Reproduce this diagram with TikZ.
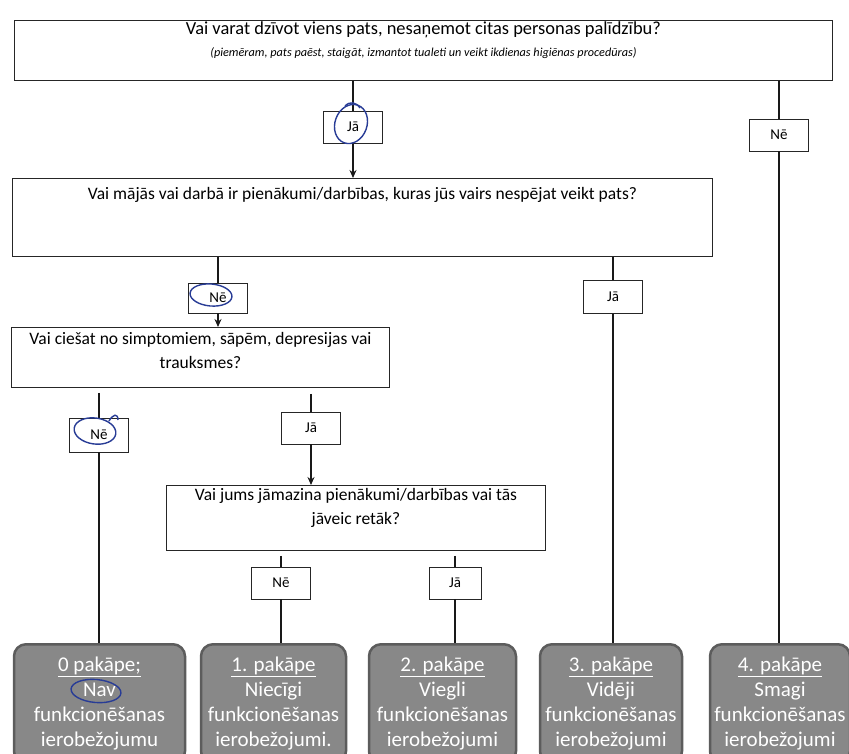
\documentclass[tikz,border=0pt]{standalone}
\usepackage{fontspec}
\setmainfont{Carlito}
\usetikzlibrary{arrows.meta}
\definecolor{gfill}{RGB}{136,136,136}
\definecolor{gdraw}{RGB}{92,92,92}
\definecolor{penblue}{RGB}{40,60,150}
\begin{document}
\begin{tikzpicture}[x=1pt,y=-1pt,
  qbox/.style={draw=black!85, line width=0.9pt, rectangle, inner sep=0pt, anchor=north west},
  qtext/.style={font=\fontsize{17.5}{24}\selectfont, align=center, inner sep=0pt},
  ans/.style={draw=black!85, line width=0.9pt, minimum width=59pt, minimum height=32pt, inner sep=0pt, font=\fontsize{15}{18}\selectfont},
  conn/.style={line width=1.3pt, black!90},
  arr/.style={conn, -{Stealth[length=8pt,width=7pt]}},
  grade/.style={rounded corners=12pt, fill=gfill, draw=gdraw, line width=2.5pt, minimum height=119pt, inner sep=0pt, anchor=north, text=white, align=center, font=\fontsize{21}{25}\selectfont},
  pen/.style={draw=penblue, line width=1.4pt}
]
\useasboundingbox (0,0) rectangle (849,753);
\clip (0,0) rectangle (849,753);
\fill[white] (0,0) rectangle (849,753);

% question boxes
\node[qbox, minimum width=818pt, minimum height=60pt] (q1) at (14,20) {};
\node[qtext, font=\fontsize{18.4}{24}\selectfont] (q1t) at ([yshift=-10pt]q1.north) {Vai varat dzīvot viens pats, nesaņemot citas personas palīdzību?};
\node[inner sep=0pt, font=\fontsize{12.2}{14}\selectfont\itshape] (q1s) at ([yshift=-33pt]q1.north) {(piemēram, pats paēst, staigāt, izmantot tualeti un veikt ikdienas higiēnas procedūras)};

\node[qbox, minimum width=700pt, minimum height=78pt] (q2) at (12,178) {};
\node[qtext] (q2t) at ([yshift=-17pt]q2.north) {Vai mājās vai darbā ir pienākumi/darbības, kuras jūs vairs nespējat veikt pats?};

\node[qbox, minimum width=378pt, minimum height=60pt] (q3) at (11,327) {};
\node[qtext] (q3t) at ([yshift=-23pt]q3.north) {Vai ciešat no simptomiem, sāpēm, depresijas vai\\trauksmes?};

\node[qbox, minimum width=379pt, minimum height=65pt] (q4) at (166,485) {};
\node[qtext] (q4t) at ([yshift=-22.5pt]q4.north) {Vai jums jāmazina pienākumi/darbības vai tās\\jāveic retāk?};

% answer boxes
\node[ans] (j1) at (353,127) {Jā};
\node[ans] (n1) at (779,135) {Nē};
\node[ans, minimum height=30pt] (n2) at (218,298) {Nē};
\node[ans, minimum height=33pt] (j2) at (613,297) {Jā};
\node[ans, minimum height=34pt] (n3) at (99,435) {Nē};
\node[ans] (j3) at (311,428) {Jā};
\node[ans] (n4) at (281,583) {Nē};
\node[ans, minimum width=52pt] (j4) at (455,583) {Jā};

% grade boxes
\node[grade, minimum width=171pt] (b1) at (99.5,643) {\underline{0 pakāpe;}\\Nav\\funkcionēšanas\\ierobežojumu};
\node[grade, minimum width=145pt] (b2) at (273.5,643) {\underline{1. pakāpe}\\Niecīgi\\funkcionēšanas\\ierobežojumi.};
\node[grade, minimum width=147pt] (b3) at (442.5,643) {\underline{2. pakāpe}\\Viegli\\funkcionēšanas\\ierobežojumi};
\node[grade, minimum width=142pt] (b4) at (611,643) {\underline{3. pakāpe}\\Vidēji\\funkcionēšanas\\ierobežojumi};
\node[grade, minimum width=140pt] (b5) at (780,643) {\underline{4. pakāpe}\\Smagi\\funkcionēšanas\\ierobežojumi};

% connectors
\draw[conn] (q1.south -| j1.north) -- (j1.north);
\draw[arr] (j1.south) -- (j1.south |- q2.north);
\draw[conn] (q1.south -| n1.north) -- (n1.north);
\draw[conn] (n1.south) -- (n1.south |- b5.north);
\draw[conn] (q2.south -| n2.north) -- (n2.north);
\draw[arr] (n2.south) -- (n2.south |- q3.north);
\draw[conn] (q2.south -| j2.north) -- (j2.north);
\draw[conn] (j2.south) -- (j2.south |- b4.north);
\draw[conn] ([yshift=-5pt]q3.south -| n3.north) -- (n3.north);
\draw[conn] (n3.south) -- (n3.south |- b1.north);
\draw[conn] ([yshift=-6pt]q3.south -| j3.north) -- (j3.north);
\draw[arr] (j3.south) -- (j3.south |- q4.north);
\draw[conn] ([yshift=-5pt]q4.south -| n4.north) -- (n4.north);
\draw[conn] (n4.south) -- (n4.south |- b2.north);
\draw[conn] ([yshift=-5pt]q4.south -| j4.north) -- (j4.north);
\draw[conn] (j4.south) -- (j4.south |- b3.north);

% hand-drawn pen marks
\draw[pen, rotate around={-20:(351,124)}] (351,124) ellipse [x radius=16, y radius=20];
\draw[pen] (345,106) .. controls (350,101) and (356,102) .. (360,108);
\draw[pen, rotate around={-5:(211,295)}] (211,295) ellipse [x radius=21, y radius=11];
\draw[pen, rotate around={-8:(95,431)}] (95,431) ellipse [x radius=21, y radius=13];
\draw[pen] (109,421) .. controls (113,414) and (118,413) .. (118,420);
\draw[pen, rotate around={-5:(96,691)}] (96,691) ellipse [x radius=25, y radius=11.5];
\end{tikzpicture}
\end{document}
